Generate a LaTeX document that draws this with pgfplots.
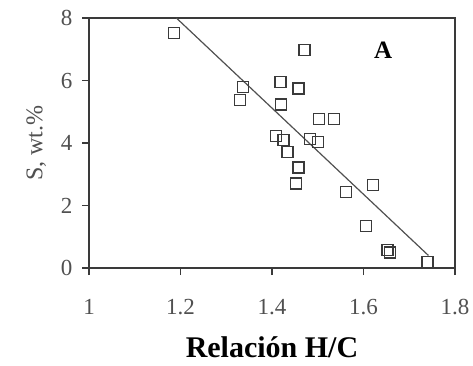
\documentclass[border=0pt]{standalone}
\usepackage{fontspec}
\setmainfont{Liberation Serif}
\usepackage{pgfplots}
\pgfplotsset{compat=1.18}
\definecolor{axc}{HTML}{3A3A3A}
\definecolor{txc}{HTML}{505050}
\begin{document}
\begin{tikzpicture}
\begin{axis}[
  name=ax,
  scale only axis,
  width=366pt, height=250pt,
  xmin=1, xmax=1.8, ymin=0, ymax=8,
  xtick={1,1.2,1.4,1.6,1.8},
  ytick={0,2,4,6,8},
  xticklabels={1,1.2,1.4,1.6,1.8},
  axis line style={axc, line width=1.3pt},
  tick style={axc, line width=1.3pt},
  tick align=outside,
  xtick pos=bottom, ytick pos=left,
  major tick length=7pt,
  /pgf/number format/assume math mode=true,
  tick label style={font=\fontsize{23}{26}\selectfont, text=txc},
  xticklabel style={yshift=-21pt},
  yticklabel style={xshift=-6pt},
  xlabel={\textbf{Relación H/C}},
  xlabel style={font=\fontsize{30}{34}\selectfont, text=black, yshift=-15pt},
  ylabel={S, wt.\%},
  ylabel style={font=\fontsize{24}{27}\selectfont, text=txc, yshift=8pt},
  clip=false,
]
\addplot[only marks, mark=square, mark size=5.5pt, mark options={line width=1.5pt, draw=axc}]
coordinates {
(1.186,7.52) (1.337,5.80) (1.330,5.38) (1.419,5.96) (1.420,5.24)
(1.409,4.22) (1.425,4.10) (1.458,5.75) (1.503,4.77) (1.535,4.77)
(1.434,3.72) (1.483,4.13) (1.501,4.04) (1.458,3.21) (1.452,2.71)
(1.562,2.44) (1.621,2.66) (1.605,1.35) (1.652,0.58) (1.658,0.49)
(1.740,0.20) (1.471,6.98)
};
\addplot[no marks, color=txc, line width=1.2pt] coordinates {(1.191,8) (1.742,0.40)};
\node[font=\fontsize{25}{28}\selectfont\bfseries, text=black] at (axis cs:1.643,6.98) {A};
\end{axis}
\path ([xshift=-89pt,yshift=-97pt]ax.south west) rectangle ([xshift=18pt,yshift=18pt]ax.north east);
\end{tikzpicture}
\end{document}
